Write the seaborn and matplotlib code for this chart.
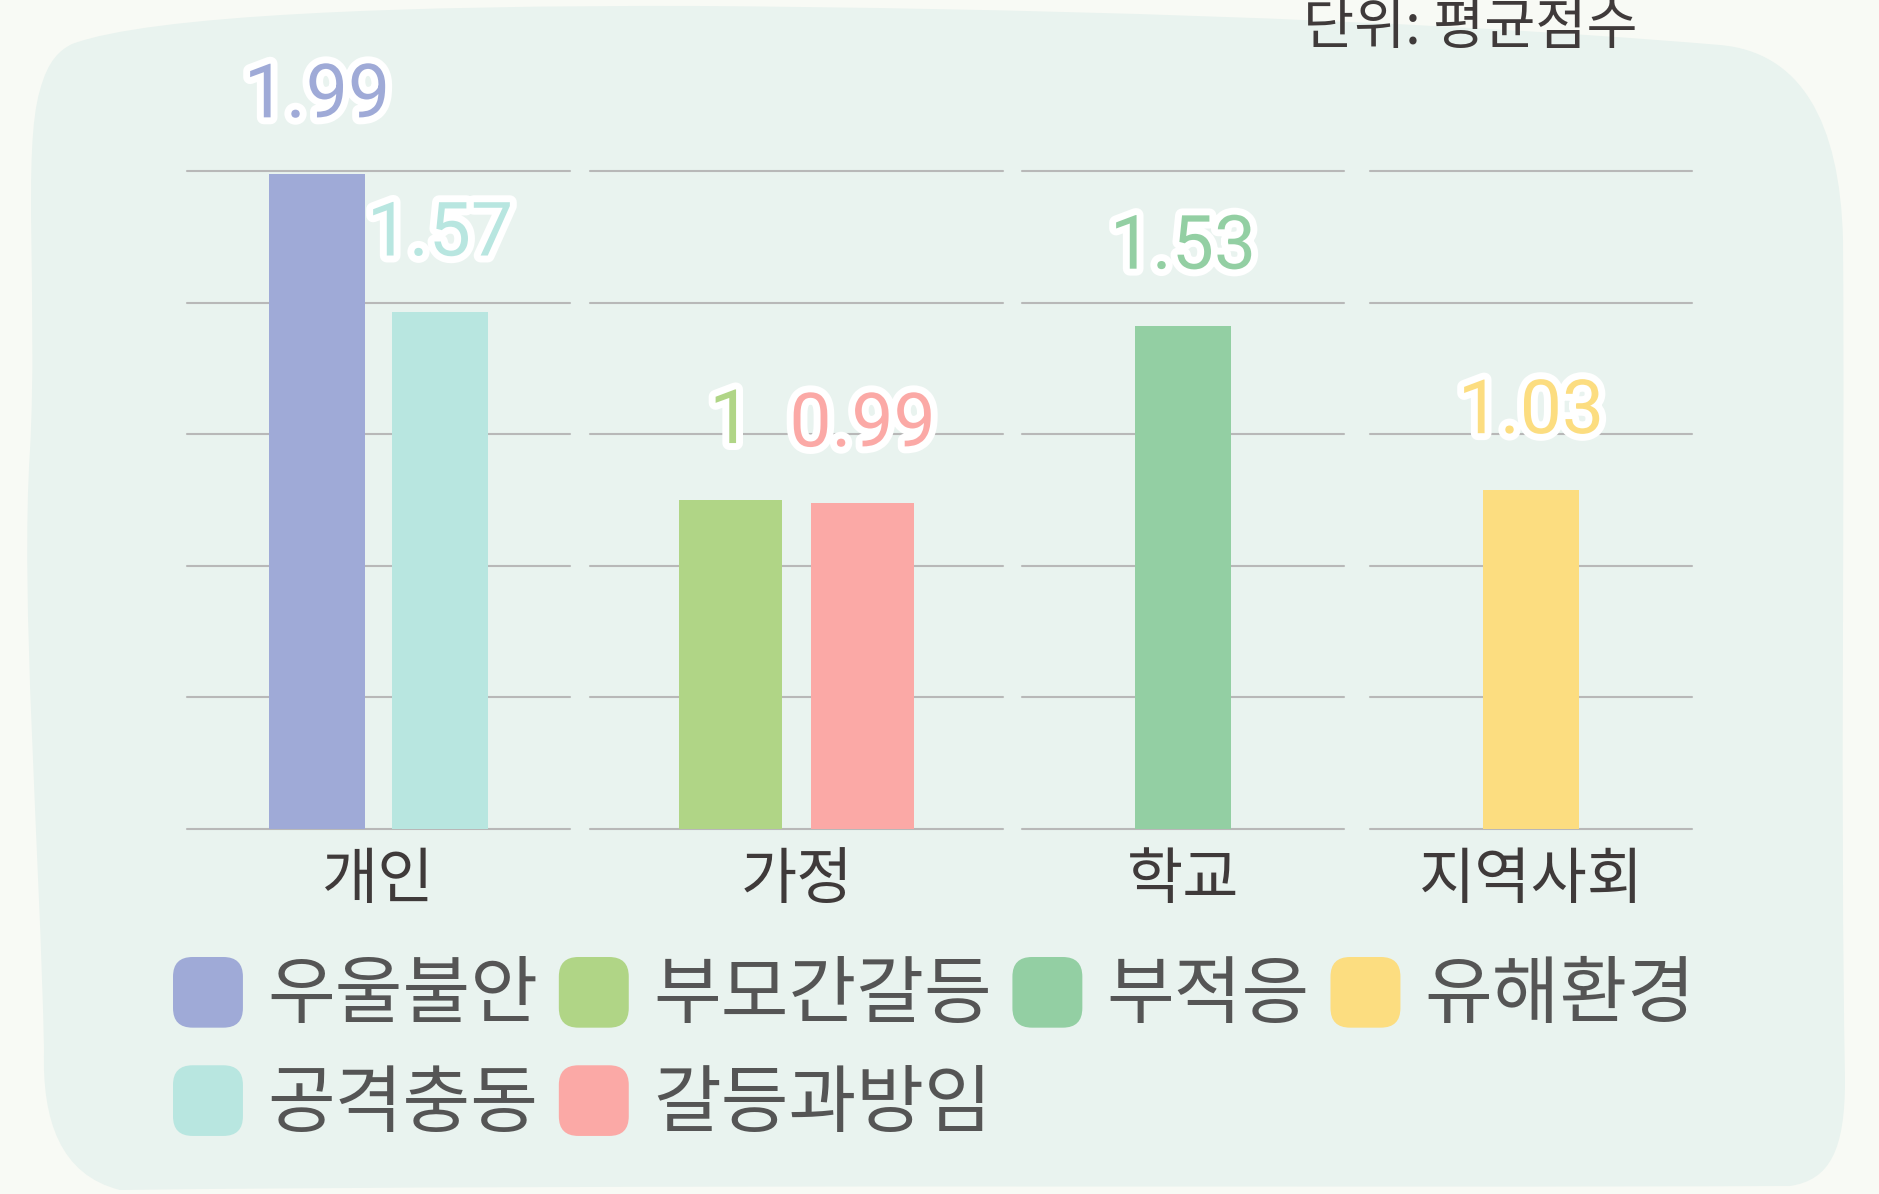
import numpy as np
import pandas as pd
import matplotlib
matplotlib.use("Agg")
import matplotlib.pyplot as plt
import matplotlib.patheffects as pe
from matplotlib.patches import FancyBboxPatch, PathPatch, Patch
from matplotlib.path import Path
from matplotlib.legend_handler import HandlerPatch
import seaborn as sns

# ---------------- data ----------------
groups = ["개인", "가정", "학교", "지역사회"]
group_items = [["우울불안", "공격충동"], ["부모간갈등", "갈등과방임"], ["부적응"], ["유해환경"]]
group_values = [[1.99, 1.57], [1.0, 0.99], [1.53], [1.03]]
item_colors = {
    "우울불안": "#9faad7",
    "공격충동": "#b8e6e0",
    "부모간갈등": "#b0d586",
    "갈등과방임": "#fba9a6",
    "부적응": "#93cfa3",
    "유해환경": "#fcdd80",
}
legend_order = ["우울불안", "공격충동", "부모간갈등", "갈등과방임", "부적응", "유해환경"]
y_ticks = [0, 0.4, 0.8, 1.2, 1.6, 2.0]
unit_label = "단위: 평균점수"

# ---------------- style ----------------
sns.set_theme(style="white")
plt.rcParams["font.family"] = ["Noto Sans CJK KR", "DejaVu Sans"]

W, H = 1879, 1194
DPI = 100
fig = plt.figure(figsize=(W / DPI, H / DPI), dpi=DPI, facecolor="#f8faf5")

# decorative blob background (pixel coords, y from top)
blob = [
    (Path.MOVETO, (72, 44)),
    (Path.CURVE4, (150, 15)), (Path.CURVE4, (400, 5)), (Path.CURVE4, (700, 6)),
    (Path.CURVE4, (1000, 8)), (Path.CURVE4, (1400, 18)), (Path.CURVE4, (1720, 45)),
    (Path.CURVE4, (1800, 52)), (Path.CURVE4, (1840, 120)), (Path.CURVE4, (1843, 240)),
    (Path.CURVE4, (1845, 500)), (Path.CURVE4, (1840, 800)), (Path.CURVE4, (1845, 1080)),
    (Path.CURVE4, (1845, 1150)), (Path.CURVE4, (1830, 1180)), (Path.CURVE4, (1790, 1186)),
    (Path.CURVE4, (1400, 1188)), (Path.CURVE4, (600, 1184)), (Path.CURVE4, (120, 1190)),
    (Path.CURVE4, (60, 1175)), (Path.CURVE4, (42, 1120)), (Path.CURVE4, (44, 1050)),
    (Path.CURVE4, (40, 850)), (Path.CURVE4, (20, 600)), (Path.CURVE4, (30, 450)),
    (Path.CURVE4, (38, 300)), (Path.CURVE4, (22, 150)), (Path.CURVE4, (40, 90)),
    (Path.CURVE4, (48, 60)), (Path.CURVE4, (60, 50)), (Path.CURVE4, (72, 44)),
    (Path.CLOSEPOLY, (72, 44)),
]
codes = [c for c, _ in blob]
verts = [(x / W, 1 - y / H) for _, (x, y) in blob]
fig.patches.append(PathPatch(Path(verts, codes), transform=fig.transFigure,
                             facecolor="#e9f3ef", edgecolor="none", zorder=-10))

# panel layout (figure fractions) and x-limits
bottom, height = (H - 829) / H, (829 - 171) / H
panel_rects = [
    (187 / W, bottom, 383 / W, height),
    (590 / W, bottom, 413 / W, height),
    (1022 / W, bottom, 322 / W, height),
    (1370 / W, bottom, 322 / W, height),
]
panel_xlims = [(-1.057, 2.057), (-1.064, 2.064), (-1.309, 1.309), (-1.309, 1.309)]
grid_color = "#b8b8b8"

for g, items, vals, rect, xl in zip(groups, group_items, group_values, panel_rects, panel_xlims):
    ax = fig.add_axes(rect)
    ax.set_facecolor("none")
    ax.set_zorder(2)
    df = pd.DataFrame({"item": items, "value": vals})
    sns.barplot(data=df, x="item", y="value", hue="item", order=items, hue_order=items,
                palette=[item_colors[i] for i in items], saturation=1, width=0.78,
                legend=False, ax=ax, zorder=3, linewidth=0, edgecolor="none")
    ax.set_ylim(0, 2.0)
    ax.set_xlim(*xl)
    ax.set_yticks(y_ticks)
    ax.set_yticklabels([])
    ax.set_xticks([])
    ax.tick_params(length=0)
    ax.set_axisbelow(True)
    ax.yaxis.grid(True, color=grid_color, linewidth=1.5)
    for gl in ax.get_ygridlines():
        gl.set_clip_on(False)
    for s in ax.spines.values():
        s.set_visible(False)
    ax.set_ylabel("")
    ax.set_xlabel(g, fontsize=44, color="#3f3a3a", labelpad=15)
    for bar, v, it in zip(ax.patches, vals, items):
        ax.annotate(f"{v:g}", xy=(bar.get_x() + bar.get_width() / 2, bar.get_height()),
                    xytext=(0, 41), textcoords="offset points", ha="center", va="baseline",
                    fontsize=54, family=["Roboto", "DejaVu Sans"], color=item_colors[it],
                    annotation_clip=False, zorder=5,
                    path_effects=[pe.Stroke(linewidth=10, foreground="white"), pe.Normal()])

# legend with rounded swatches
class RoundHandler(HandlerPatch):
    def create_artists(self, legend, orig_handle, xdescent, ydescent, width, height, fontsize, trans):
        p = FancyBboxPatch((-xdescent, -ydescent), width, height,
                           boxstyle=f"round,pad=0,rounding_size={width * 0.28}",
                           facecolor=orig_handle.get_facecolor(), edgecolor="none",
                           transform=trans)
        return [p]

handles = [Patch(facecolor=item_colors[n], edgecolor="none", label=n) for n in legend_order]
leg = fig.legend(handles=handles, labels=legend_order, ncol=4, loc="upper left",
                 bbox_to_anchor=(173 / W, 1 - 957 / H), frameon=False,
                 fontsize=53, handlelength=0.95, handleheight=1.10, handletextpad=0.33,
                 columnspacing=0.28, labelspacing=0.42, borderpad=0, borderaxespad=0,
                 handler_map={Patch: RoundHandler()})
for t in leg.get_texts():
    t.set_color("#555555")

fig.text(1638 / W, 1.0, unit_label, ha="right", va="top", fontsize=40, color="#3f3a3a")

fig.savefig("out.png", dpi=DPI, facecolor=fig.get_facecolor())
